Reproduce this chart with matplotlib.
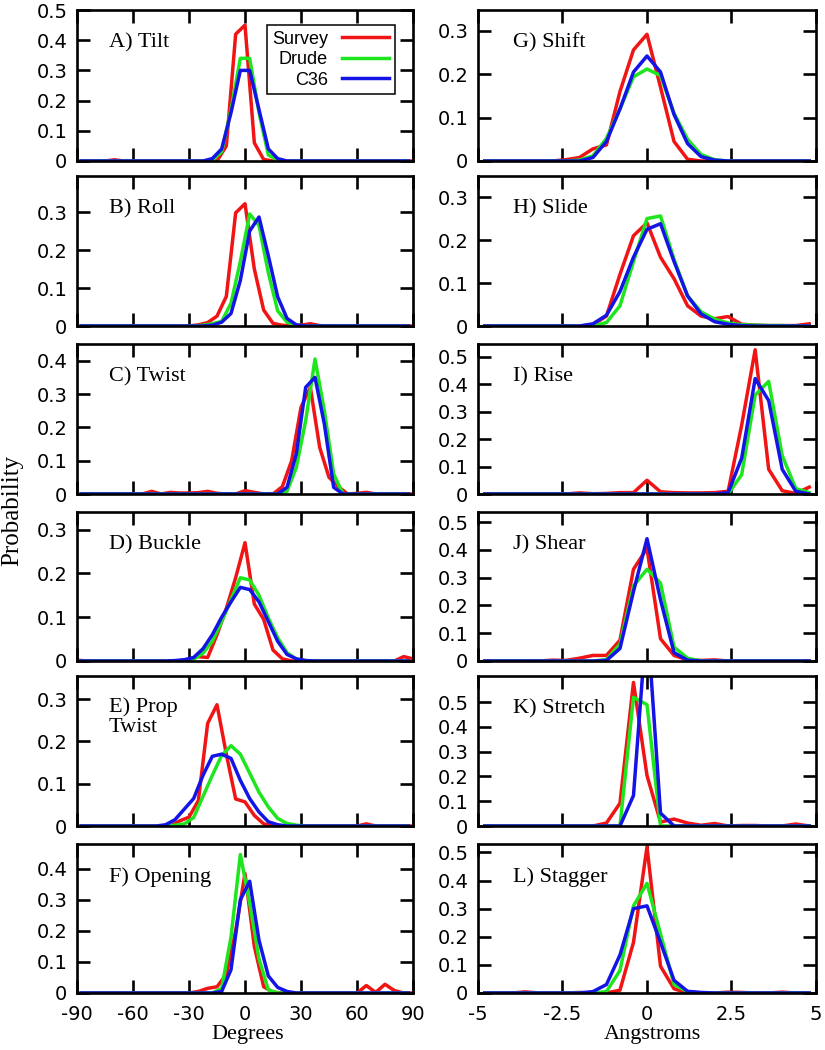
import matplotlib
matplotlib.use('Agg')
import matplotlib.pyplot as plt
from matplotlib.ticker import FuncFormatter
import numpy as np

# ---------------- grids ----------------
deg_survey_x = np.arange(-90, 90.1, 5)      # 37 bins (survey)
deg_sim_x = np.arange(-87.5, 87.6, 5)       # 36 bins (simulations)
ang_x = np.arange(-4.8, 4.81, 0.4)          # 25 bins

deg_ticks = [-90, -60, -30, 0, 30, 60, 90]
deg_ticklabels = ['-90', '-60', '-30', '0', '30', '60', '90']
ang_ticks = [-5, -2.5, 0, 2.5, 5]
ang_ticklabels = ['-5', '-2.5', '0', '2.5', '5']

series_names = ['Survey', 'Drude', 'C36']
series_colors = ['#f01414', '#1ee61e', '#1414e6']

# ---------------- left column (degrees) ----------------
# survey: -90..-5 (18) | 0 | 5..90 (18)
tilt_survey = [0, 0, 0, 0, 0.004, 0,  0, 0, 0, 0, 0, 0,  0, 0, 0, 0, 0.05, 0.42,
               0.45,
               0.06, 0.005, 0, 0, 0, 0,  0, 0, 0, 0, 0, 0,  0, 0, 0, 0, 0, 0]
# sims: -87.5..-2.5 (18) | 2.5..87.5 (18)
tilt_drude = [0, 0, 0, 0, 0, 0,  0, 0, 0, 0, 0, 0,  0, 0, 0.003, 0.03, 0.17, 0.34,
              0.34, 0.16, 0.02, 0.003, 0, 0,  0, 0, 0, 0, 0, 0,  0, 0, 0, 0, 0, 0]
tilt_c36 = [0, 0, 0, 0, 0, 0,  0, 0, 0, 0, 0, 0,  0, 0, 0.008, 0.04, 0.16, 0.30,
            0.30, 0.17, 0.04, 0.008, 0, 0,  0, 0, 0, 0, 0, 0,  0, 0, 0, 0, 0, 0]

roll_survey = [0, 0, 0, 0, 0, 0,  0, 0, 0, 0, 0, 0,  0, 0.003, 0.009, 0.026, 0.078, 0.298,
               0.322,
               0.15, 0.042, 0.007, 0.002, 0, 0.002,  0.006, 0.001, 0, 0, 0, 0,  0, 0, 0, 0, 0, 0]
roll_drude = [0, 0, 0, 0, 0, 0,  0, 0, 0, 0, 0, 0,  0, 0.002, 0.006, 0.012, 0.06, 0.17,
              0.295, 0.265, 0.14, 0.04, 0.01, 0.002,  0, 0, 0, 0, 0, 0,  0, 0, 0, 0, 0, 0]
roll_c36 = [0, 0, 0, 0, 0, 0,  0, 0, 0, 0, 0, 0,  0, 0, 0.002, 0.01, 0.033, 0.12,
            0.25, 0.287, 0.185, 0.077, 0.02, 0.003,  0, 0, 0, 0, 0, 0,  0, 0, 0, 0, 0, 0]

twist_survey = [0, 0, 0, 0, 0, 0,  0, 0, 0.008, 0, 0.005, 0.003,  0.003, 0.004, 0.008, 0.002, 0, 0,
                0.01,
                0.005, 0, 0, 0.022, 0.1, 0.26,  0.32, 0.14, 0.05, 0.022, 0, 0.002,  0.005, 0, 0, 0, 0, 0]
twist_drude = [0, 0, 0, 0, 0, 0,  0, 0, 0, 0, 0, 0,  0, 0, 0, 0, 0, 0,
               0, 0, 0, 0, 0.008, 0.08,  0.22, 0.405, 0.25, 0.06, 0, 0,  0, 0, 0, 0, 0, 0]
twist_c36 = [0, 0, 0, 0, 0, 0,  0, 0, 0, 0, 0, 0,  0, 0, 0, 0, 0, 0,
             0, 0, 0, 0, 0.02, 0.12,  0.32, 0.35, 0.21, 0.02, 0, 0,  0, 0, 0, 0, 0, 0]

buckle_survey = [0.002, 0, 0, 0, 0, 0,  0, 0, 0, 0, 0, 0,  0.004, 0.01, 0.008, 0.06, 0.12, 0.19,
                 0.27,
                 0.13, 0.095, 0.025, 0.005, 0, 0,  0, 0, 0, 0, 0, 0,  0, 0, 0, 0, 0.01, 0.005]
buckle_drude = [0, 0, 0, 0, 0, 0,  0, 0, 0, 0, 0, 0.001,  0.004, 0.018, 0.045, 0.09, 0.14, 0.19,
                0.185, 0.15, 0.098, 0.053, 0.019, 0.004,  0.001, 0, 0, 0, 0, 0,  0, 0, 0, 0, 0, 0]
buckle_c36 = [0, 0, 0, 0, 0, 0,  0, 0, 0, 0, 0.001, 0.003,  0.008, 0.028, 0.06, 0.1, 0.135, 0.168,
              0.163, 0.135, 0.09, 0.045, 0.015, 0.005,  0.001, 0, 0, 0, 0, 0,  0, 0, 0, 0, 0, 0]

prop_survey = [0, 0, 0, 0, 0, 0,  0, 0, 0, 0, 0, 0.012,  0.021, 0.06, 0.243, 0.287, 0.17, 0.064,
               0.057,
               0.025, 0.005, 0, 0, 0, 0,  0, 0, 0, 0, 0, 0,  0.005, 0, 0, 0, 0, 0]
prop_drude = [0, 0, 0, 0, 0, 0,  0, 0, 0, 0, 0.002, 0.005,  0.02, 0.07, 0.12, 0.167, 0.19, 0.17,
              0.125, 0.08, 0.045, 0.018, 0.006, 0.002,  0, 0, 0, 0, 0, 0,  0, 0, 0, 0, 0, 0]
prop_c36 = [0, 0, 0, 0, 0, 0,  0, 0, 0, 0.003, 0.015, 0.04,  0.065, 0.12, 0.165, 0.17, 0.16, 0.108,
            0.065, 0.033, 0.01, 0.003, 0, 0,  0, 0, 0, 0, 0, 0,  0, 0, 0, 0, 0, 0]

opening_survey = [0, 0, 0, 0, 0, 0,  0, 0, 0, 0, 0, 0,  0, 0.005, 0.015, 0.02, 0.06, 0.2,
                  0.385,
                  0.15, 0.02, 0.003, 0, 0, 0,  0, 0, 0, 0, 0, 0,  0.024, 0.002, 0.028, 0.008, 0, 0]
opening_drude = [0, 0, 0, 0, 0, 0,  0, 0, 0, 0, 0, 0,  0, 0, 0, 0.015, 0.18, 0.446,
                 0.29, 0.11, 0.01, 0, 0, 0,  0, 0, 0, 0, 0, 0,  0, 0, 0, 0, 0, 0]
opening_c36 = [0, 0, 0, 0, 0, 0,  0, 0, 0, 0, 0, 0,  0, 0, 0, 0.005, 0.075, 0.3,
               0.36, 0.17, 0.055, 0.018, 0.005, 0,  0, 0, 0, 0, 0, 0,  0, 0, 0, 0, 0, 0]

# ---------------- right column (Angstroms) ----------------
# -4.8..-0.4 (12) | 0 | 0.4..4.8 (12)
shift_survey = [0, 0, 0, 0,  0, 0, 0.003, 0.008,  0.028, 0.037, 0.16, 0.256,
                0.292,
                0.17, 0.045, 0.004, 0,  0, 0, 0, 0,  0, 0, 0, 0]
shift_drude = [0, 0, 0, 0,  0, 0, 0, 0.002,  0.012, 0.052, 0.12, 0.194,
               0.212,
               0.197, 0.11, 0.05, 0.015,  0.003, 0, 0, 0,  0, 0, 0, 0]
shift_c36 = [0, 0, 0, 0,  0, 0, 0, 0,  0.008, 0.045, 0.12, 0.205,
             0.242,
             0.205, 0.107, 0.04, 0.01,  0.002, 0, 0, 0,  0, 0, 0, 0]

slide_survey = [0, 0, 0, 0,  0, 0, 0, 0,  0.003, 0.023, 0.12, 0.21,
                0.24,
                0.16, 0.11, 0.047, 0.023,  0.017, 0.022, 0.004, 0.002,  0.001, 0.001, 0.001, 0.005]
slide_drude = [0, 0, 0, 0,  0, 0, 0, 0,  0, 0.008, 0.047, 0.15,
               0.25,
               0.256, 0.155, 0.07, 0.033,  0.016, 0.007, 0.003, 0.002,  0.001, 0.001, 0, 0]
slide_c36 = [0, 0, 0, 0,  0, 0, 0, 0,  0.005, 0.025, 0.08, 0.16,
             0.225,
             0.238, 0.15, 0.07, 0.028,  0.01, 0.004, 0.001, 0,  0, 0, 0, 0]

rise_survey = [0, 0, 0, 0,  0, 0, 0, 0.004,  0.001, 0.002, 0.005, 0.005,
               0.05,
               0.008, 0.005, 0.004, 0.004,  0.005, 0.01, 0.25, 0.525,  0.09, 0.012, 0.002, 0.025]
rise_drude = [0, 0, 0, 0,  0, 0, 0, 0,  0, 0, 0, 0,
              0,
              0, 0, 0, 0,  0, 0, 0.07, 0.36,  0.41, 0.14, 0.02, 0.005]
rise_c36 = [0, 0, 0, 0,  0, 0, 0, 0,  0, 0, 0, 0,
            0,
            0, 0, 0, 0,  0, 0.005, 0.13, 0.42,  0.34, 0.09, 0.01, 0]

shear_survey = [0, 0, 0, 0,  0, 0.003, 0.002, 0.01,  0.02, 0.02, 0.075, 0.33,
                0.405,
                0.08, 0.02, 0.004, 0.002,  0.004, 0, 0, 0,  0, 0, 0, 0]
shear_drude = [0, 0, 0, 0,  0, 0, 0, 0,  0, 0.005, 0.06, 0.27,
               0.33,
               0.28, 0.05, 0.01, 0,  0, 0, 0, 0,  0, 0, 0, 0]
shear_c36 = [0, 0, 0, 0,  0, 0, 0, 0,  0, 0.002, 0.045, 0.25,
             0.44,
             0.22, 0.03, 0.003, 0,  0, 0, 0, 0,  0, 0, 0, 0]

stretch_survey = [0, 0, 0, 0,  0, 0, 0, 0,  0, 0.012, 0.092, 0.58,
                  0.204,
                  0.016, 0.028, 0.012, 0.003,  0.01, 0, 0.002, 0.002,  0, 0, 0.008, 0]
stretch_drude = [0, 0, 0, 0,  0, 0, 0, 0,  0, 0, 0, 0.52,
                 0.49,
                 0, 0, 0, 0,  0, 0, 0, 0,  0, 0, 0, 0]
stretch_c36 = [0, 0, 0, 0,  0, 0, 0, 0,  0, 0, 0, 0.123,
               0.85,
               0.052, 0, 0, 0,  0, 0, 0, 0,  0, 0, 0, 0]

stagger_survey = [0, 0, 0, 0.004,  0, 0, 0, 0.002,  0, 0, 0.01, 0.18,
                  0.52,
                  0.095, 0.015, 0, 0,  0, 0.003, 0.002, 0,  0, 0.003, 0, 0]
stagger_drude = [0, 0, 0, 0,  0, 0, 0, 0,  0, 0.005, 0.08, 0.31,
                 0.39,
                 0.21, 0.03, 0.005, 0,  0, 0, 0, 0,  0, 0, 0, 0]
stagger_c36 = [0, 0, 0, 0,  0, 0, 0, 0,  0.005, 0.03, 0.135, 0.3,
               0.31,
               0.18, 0.045, 0.006, 0.002,  0, 0, 0, 0,  0, 0, 0, 0]

left_panels = [
    ('A) Tilt', tilt_survey, tilt_drude, tilt_c36, 0.5, [0, 0.1, 0.2, 0.3, 0.4, 0.5]),
    ('B) Roll', roll_survey, roll_drude, roll_c36, 0.395, [0, 0.1, 0.2, 0.3]),
    ('C) Twist', twist_survey, twist_drude, twist_c36, 0.45, [0, 0.1, 0.2, 0.3, 0.4]),
    ('D) Buckle', buckle_survey, buckle_drude, buckle_c36, 0.34, [0, 0.1, 0.2, 0.3]),
    ('E) Prop\nTwist', prop_survey, prop_drude, prop_c36, 0.355, [0, 0.1, 0.2, 0.3]),
    ('F) Opening', opening_survey, opening_drude, opening_c36, 0.48, [0, 0.1, 0.2, 0.3, 0.4]),
]
right_panels = [
    ('G) Shift', shift_survey, shift_drude, shift_c36, 0.348, [0, 0.1, 0.2, 0.3]),
    ('H) Slide', slide_survey, slide_drude, slide_c36, 0.349, [0, 0.1, 0.2, 0.3]),
    ('I) Rise', rise_survey, rise_drude, rise_c36, 0.546, [0, 0.1, 0.2, 0.3, 0.4, 0.5]),
    ('J) Shear', shear_survey, shear_drude, shear_c36, 0.536, [0, 0.1, 0.2, 0.3, 0.4, 0.5]),
    ('K) Stretch', stretch_survey, stretch_drude, stretch_c36, 0.606, [0, 0.1, 0.2, 0.3, 0.4, 0.5]),
    ('L) Stagger', stagger_survey, stagger_drude, stagger_c36, 0.53, [0, 0.1, 0.2, 0.3, 0.4, 0.5]),
]

# ---------------- layout ----------------
W, H = 825, 1050
rows_px = [(10, 161), (176, 326), (344, 494), (512, 661), (676, 826), (844, 993)]
left_cols = (77, 413)
right_cols = (478, 816)

SERIF = 'Liberation Serif'
SANS = 'DejaVu Sans'
LEG = 'Liberation Sans'

fig = plt.figure(figsize=(W / 100, H / 100), dpi=100)

yfmt = FuncFormatter(lambda v, p: '0' if abs(v) < 1e-9 else '%.1f' % v)


def make_axes(cols, row):
    x0, x1 = cols
    t, b = row
    return fig.add_axes([x0 / W, 1 - b / H, (x1 - x0) / W, (b - t) / H])


for col, panels in ((0, left_panels), (1, right_panels)):
    for i, (label, s, d, c, ytop, yt) in enumerate(panels):
        ax = make_axes(left_cols if col == 0 else right_cols, rows_px[i])
        if col == 0:
            ax.plot(deg_survey_x, s, color=series_colors[0], lw=2.5, label=series_names[0])
            ax.plot(deg_sim_x, d, color=series_colors[1], lw=2.5, label=series_names[1])
            ax.plot(deg_sim_x, c, color=series_colors[2], lw=2.5, label=series_names[2])
            ax.set_xlim(-90, 90)
            ax.set_xticks(deg_ticks)
            ax.set_xticklabels(deg_ticklabels)
            tx = 0.095
        else:
            ax.plot(ang_x, s, color=series_colors[0], lw=2.5, label=series_names[0])
            ax.plot(ang_x, d, color=series_colors[1], lw=2.5, label=series_names[1])
            ax.plot(ang_x, c, color=series_colors[2], lw=2.5, label=series_names[2])
            ax.set_xlim(-5, 5)
            ax.set_xticks(ang_ticks)
            ax.set_xticklabels(ang_ticklabels)
            tx = 0.104
        ax.set_ylim(0, ytop)
        ax.set_yticks(yt)
        ax.yaxis.set_major_formatter(yfmt)
        for sp in ax.spines.values():
            sp.set_linewidth(1.9)
        ax.tick_params(direction='in', length=9.5, width=1.9, top=True, right=True,
                       labelsize=14, labelbottom=(i == 5))
        ax.tick_params(axis='y', pad=7)
        ax.tick_params(axis='x', pad=9)
        for tl in ax.get_xticklabels() + ax.get_yticklabels():
            tl.set_fontfamily(SANS)
        if '\n' in label:
            ax.text(tx, 0.725, label, transform=ax.transAxes, fontsize=16,
                    family=SERIF, ha='left', va='center', linespacing=1.05)
        else:
            ax.text(tx, 0.78, label, transform=ax.transAxes, fontsize=16,
                    family=SERIF, ha='left', va='center')
        if col == 0 and i == 0:
            leg = ax.legend(loc='upper right', bbox_to_anchor=(0.946, 0.90),
                            borderaxespad=0, markerfirst=False, fancybox=False,
                            edgecolor='black', framealpha=1, handlelength=2.6,
                            handletextpad=0.8, labelspacing=0.2, borderpad=0.3,
                            prop={'family': LEG, 'size': 13})
            leg.get_frame().set_linewidth(1.1)

fig.text(12 / W, 1 - 510 / H, 'Probability', rotation=90, family=SERIF,
         fontsize=18, ha='center', va='center')
fig.text(248 / W, 1 - 1035 / H, 'Degrees', family=SERIF, fontsize=16,
         ha='center', va='center')
fig.text(652 / W, 1 - 1035 / H, 'Angstroms', family=SERIF, fontsize=16,
         ha='center', va='center')

fig.savefig('out.png', dpi=100)
